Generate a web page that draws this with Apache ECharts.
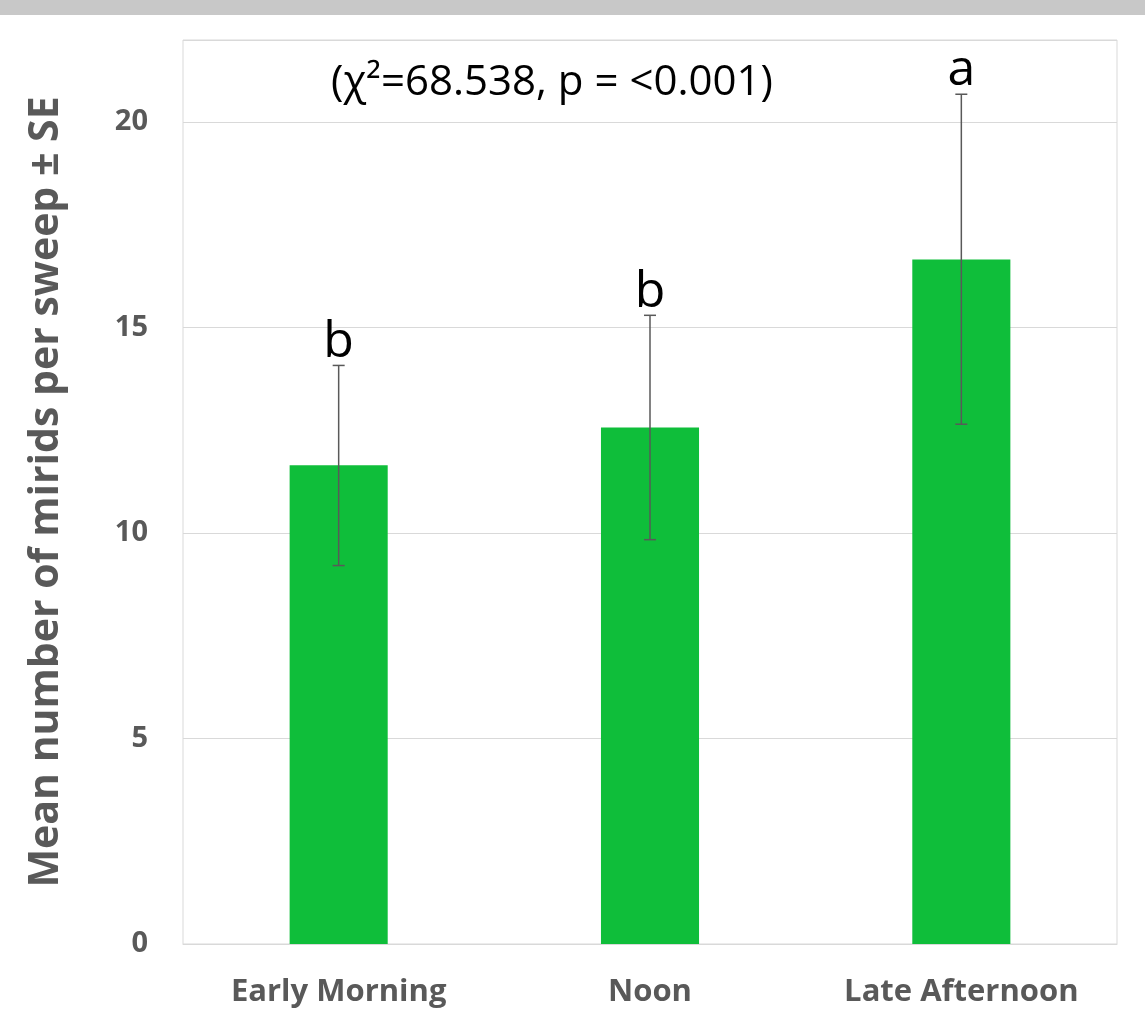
<!DOCTYPE html>
<html><head><meta charset="utf-8">
<script src="https://cdn.jsdelivr.net/npm/echarts@6/dist/echarts.min.js"></script>
<style>html,body{margin:0;padding:0;background:#fff}#band{position:absolute;left:0;top:0;width:1145px;height:15px;background:#c8c8c8}#c{width:1145px;height:1022px}</style>
</head><body><div id="band"></div><div id="c"></div>
<script>
const categories = ['Early Morning', 'Noon', 'Late Afternoon'];
const means = [11.65, 12.57, 16.66];
const errLow = [9.21, 9.84, 12.65];
const errHigh = [14.08, 15.30, 20.68];
const letters = ['b', 'b', 'a'];
const yTicks = [0, 5, 10, 15, 20];
const titleText = '(χ²=68.538, p = <0.001)';

const chart = echarts.init(document.getElementById('c'));
chart.setOption({
  animation: false,
  title: {text: titleText, left: 547, top: 57, textAlign: 'center',
    textStyle: {fontFamily: 'Open Sans', fontSize: 42, fontWeight: 'normal', color: '#000'}},
  grid: {left: 183, right: 28, top: 40, bottom: 78, show: true, borderColor: '#d9d9d9', borderWidth: 1},
  xAxis: {type: 'category', data: categories,
    axisLine: {lineStyle: {color: '#d9d9d9'}}, axisTick: {show: false},
    axisLabel: {margin: 33, fontFamily: 'Open Sans', fontWeight: 'bold', fontSize: 31, color: '#595959'}},
  yAxis: {type: 'value', min: 0, max: 22, interval: 5,
    name: 'Mean number of mirids per sweep ± SE', nameLocation: 'middle', nameGap: 116,
    nameTextStyle: {fontFamily: 'Open Sans', fontWeight: 'bold', fontSize: 41, color: '#595959'},
    axisLabel: {margin: 35, fontFamily: 'Open Sans', fontWeight: 'bold', fontSize: 29, color: '#595959',
      formatter: v => yTicks.includes(v) ? String(v) : ''},
    splitLine: {lineStyle: {color: '#d9d9d9'}}},
  series: [
    {type: 'bar', data: means, barWidth: '31.5%', itemStyle: {color: '#0fbe3a'}},
    {type: 'custom', data: categories.map((c, i) => [i, errLow[i], errHigh[i]]), z: 10,
      renderItem: (params, api) => {
        const lo = api.coord([api.value(0), api.value(1)]);
        const hi = api.coord([api.value(0), api.value(2)]);
        const st = {stroke: '#595959', lineWidth: 1.5};
        return {type: 'group', children: [
          {type: 'line', shape: {x1: hi[0], y1: hi[1], x2: lo[0], y2: lo[1]}, style: st},
          {type: 'line', shape: {x1: hi[0] - 6, y1: hi[1], x2: hi[0] + 6, y2: hi[1]}, style: st},
          {type: 'line', shape: {x1: lo[0] - 6, y1: lo[1], x2: lo[0] + 6, y2: lo[1]}, style: st},
          {type: 'text', x: hi[0], y: hi[1] + 2, style: {text: letters[params.dataIndex], fontFamily: 'Open Sans', fontSize: 50, fill: '#000', textAlign: 'center', textVerticalAlign: 'bottom'}}
        ]};
      }}
  ]
});
</script></body></html>
